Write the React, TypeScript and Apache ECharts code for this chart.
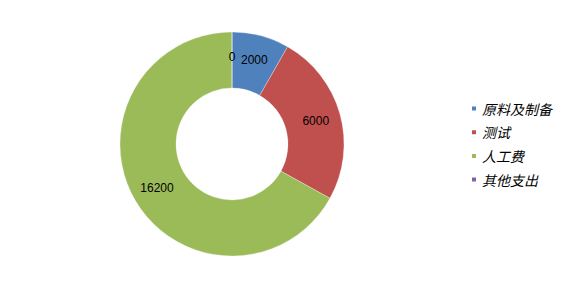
import React, { useEffect, useRef } from "react";
import * as echarts from "echarts";

const categories = ["原料及制备", "测试", "人工费", "其他支出"];
const values = [2000, 6000, 16200, 0];
const colors = ["#4F81BD", "#C0504D", "#9BBB59", "#8064A2"];

export default function App() {
  const ref = useRef<HTMLDivElement>(null);
  useEffect(() => {
    document.body.style.margin = "0";
    const chart = echarts.init(ref.current!, null, { renderer: "svg" });
    chart.setOption({
      animation: false,
      backgroundColor: "#ffffff",
      color: colors,
      legend: {
        orient: "vertical",
        left: 470,
        top: 101.5,
        padding: 0,
        icon: "rect",
        itemWidth: 6,
        itemHeight: 6,
        itemGap: 9.7,
        data: categories,
        textStyle: {
          fontFamily: "'Noto Sans CJK SC', sans-serif",
          fontSize: 14,
          fontStyle: "italic",
          color: "#000",
          lineHeight: 14,
        },
      },
      series: [
        {
          type: "pie",
          center: [232, 144],
          radius: [56, 112],
          startAngle: 90,
          clockwise: true,
          avoidLabelOverlap: false,
          label: {
            show: true,
            position: "inside",
            formatter: "{c}",
            color: "#000",
            fontFamily: "'Liberation Sans', Arial, sans-serif",
            fontSize: 12,
          },
          labelLine: { show: false },
          emphasis: { disabled: true },
          itemStyle: { borderColor: "#fff", borderWidth: 0.3 },
          data: categories.map((name, i) => ({ name, value: values[i] })),
        },
      ],
    });
    return () => chart.dispose();
  }, []);
  return (
    <div
      ref={ref}
      style={{ position: "fixed", left: 0, top: 0, width: 567, height: 288 }}
    />
  );
}
